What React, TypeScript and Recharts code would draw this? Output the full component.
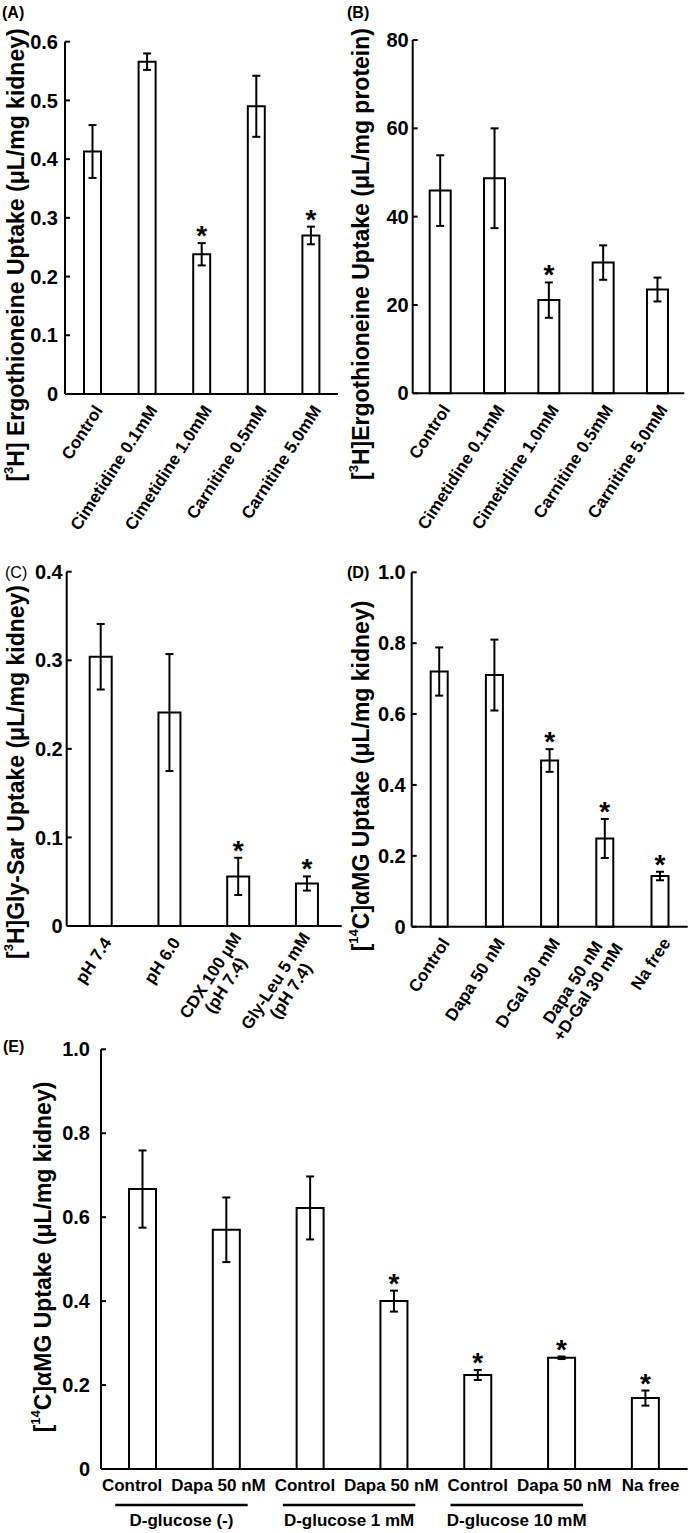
import React from "react";
import { BarChart, Bar, XAxis, YAxis, ErrorBar, LabelList, Label } from "recharts";

const FONT = "'Liberation Sans', Arial, Helvetica, sans-serif";
const ANGLE = -57;

// (A) ergothioneine uptake, kidney slices
const aNames = ["Control", "Cimetidine 0.1mM", "Cimetidine 1.0mM", "Carnitine 0.5mM", "Carnitine 5.0mM"];
const aMean = [0.413, 0.566, 0.238, 0.49, 0.27];
const aSem = [0.045, 0.014, 0.019, 0.052, 0.015];
const aSig = [false, false, true, false, true];
const aTicks = [0, 0.1, 0.2, 0.3, 0.4, 0.5, 0.6];

// (B) ergothioneine uptake per protein
const bNames = ["Control", "Cimetidine 0.1mM", "Cimetidine 1.0mM", "Carnitine 0.5mM", "Carnitine 5.0mM"];
const bMean = [45.9, 48.7, 21.1, 29.6, 23.5];
const bSem = [8.0, 11.3, 4.0, 3.9, 2.7];
const bSig = [false, false, true, false, false];
const bTicks = [0, 20, 40, 60, 80];

// (C) Gly-Sar uptake
const cNames = ["pH 7.4", "pH 6.0", "CDX 100 μM\n(pH 7.4)", "Gly-Leu 5 mM\n(pH 7.4)"];
const cMean = [0.304, 0.241, 0.056, 0.048];
const cSem = [0.037, 0.066, 0.021, 0.008];
const cSig = [false, false, true, true];
const cTicks = [0, 0.1, 0.2, 0.3, 0.4];

// (D) aMG uptake
const dNames = ["Control", "Dapa 50 nM", "D-Gal 30 mM", "Dapa 50 nM\n+D-Gal 30 mM", "Na free"];
const dMean = [0.72, 0.71, 0.469, 0.249, 0.143];
const dSem = [0.068, 0.1, 0.032, 0.055, 0.012];
const dSig = [false, false, true, true, true];
const dTicks = [0, 0.2, 0.4, 0.6, 0.8, 1.0];

// (E) aMG uptake with D-glucose
const eNames = ["Control", "Dapa 50 nM", "Control", "Dapa 50 nM", "Control", "Dapa 50 nM", "Na free"];
const eMean = [0.667, 0.57, 0.622, 0.4, 0.224, 0.265, 0.169];
const eSem = [0.092, 0.077, 0.075, 0.025, 0.012, 0.003, 0.018];
const eSig = [false, false, false, true, true, true, true];
const eTicks = [0, 0.2, 0.4, 0.6, 0.8, 1.0];
const eGroups = [
  { label: "D-glucose (-)", first: 0, last: 1 },
  { label: "D-glucose 1 mM", first: 2, last: 3 },
  { label: "D-glucose 10 mM", first: 4, last: 5 },
];

type Row = { id: string; mean: number; sem: number; sig: boolean };

const buildRows = (means: number[], sems: number[], sigs: boolean[]): Row[] =>
  means.map((m, i) => ({ id: String(i), mean: m, sem: sems[i], sig: sigs[i] }));

const dec = (v: number) => (v === 0 ? "0" : v.toFixed(1));

let ctx: CanvasRenderingContext2D | null = null;
function textWidth(s: string, size: number) {
  if (!ctx) ctx = document.createElement("canvas").getContext("2d");
  if (!ctx) return s.length * size * 0.55;
  ctx.font = `bold ${size}px ${FONT}`;
  return ctx.measureText(s).width;
}

function RotatedTick(props: any) {
  const { x, y, payload, names } = props;
  const lines: string[] = names[Number(payload.value)].split("\n");
  const size = 17;
  const lh = 18;
  const w = Math.max(...lines.map((l) => textWidth(l, size)));
  return (
    <g transform={`translate(${x + 6},${y + 13}) rotate(${ANGLE})`}>
      <text textAnchor="middle" fontFamily={FONT} fontWeight="bold" fontSize={size} fill="#000">
        {lines.map((l, i) => (
          <tspan key={i} x={-w / 2} y={(i - (lines.length - 1) / 2) * lh} dy="0.35em">
            {l}
          </tspan>
        ))}
      </text>
    </g>
  );
}

function FlatTick(props: any) {
  const { x, y, payload } = props;
  const i = Number(payload.value);
  // labels in the source sit a little wider apart than the bars
  const shift = (i - 3) * 2.6 - 3;
  return (
    <text x={x + shift} y={y + 16} dy="0.35em" textAnchor="middle" fontFamily={FONT} fontWeight="bold" fontSize={17} fill="#000">
      {eNames[i]}
    </text>
  );
}

function GroupMarks(props: any) {
  const vb = props.viewBox;
  if (!vb) return null;
  const band = vb.width / eNames.length;
  return (
    <g>
      {eGroups.map((g) => {
        const x1 = vb.x + band * (g.first + 0.5) - 0.33 * band;
        const x2 = vb.x + band * (g.last + 0.5) + 0.25 * band;
        return (
          <g key={g.label}>
            <line x1={x1} x2={x2} y1={vb.y + 36} y2={vb.y + 36} stroke="#000" strokeWidth={2.5} />
            <text x={(x1 + x2) / 2} y={vb.y + 51} dy="0.35em" textAnchor="middle" fontFamily={FONT} fontWeight="bold" fontSize={17} fill="#000">
              {g.label}
            </text>
          </g>
        );
      })}
    </g>
  );
}

const starContent = (rows: Row[]) => (props: any) => {
  const row = rows[props.index];
  if (!row || !row.sig) return null;
  const vb = props.viewBox ?? props;
  const top = vb.y - (row.sem * vb.height) / row.mean;
  return (
    <text x={vb.x + vb.width / 2} y={top + 2} textAnchor="middle" fontFamily={FONT} fontWeight="bold" fontSize={28} fill="#000">
      *
    </text>
  );
};

type Box = { left: number; top: number; w: number; h: number };
type Plot = { l: number; t: number; r: number; b: number };

function Panel(props: {
  box: Box;
  plot: Plot;
  rows: Row[];
  yMax: number;
  yTicks: number[];
  fmt: (v: number) => string;
  barSize: number;
  tick: any;
  tickMargin: number;
  title: { x: number; y: number; pre: string; sup: string; post: string };
  tag: { x: number; y: number; text: string; bold?: boolean };
  groups?: boolean;
}) {
  const { box, plot, rows, title, tag } = props;
  const axis = { stroke: "#000", strokeWidth: 2 };
  const tx = title.x - box.left;
  const ty = title.y - box.top;
  return (
    <div style={{ position: "absolute", left: box.left, top: box.top }}>
      <BarChart
        width={box.w}
        height={box.h}
        data={rows}
        margin={{ top: plot.t - box.top, right: box.left + box.w - plot.r, bottom: 0, left: 0 }}
      >
        <XAxis
          dataKey="id"
          type="category"
          interval={0}
          height={box.top + box.h - plot.b}
          tickLine={false}
          tickSize={0}
          tickMargin={0}
          axisLine={axis}
          tick={props.tick}
        >
          {props.groups ? <Label content={GroupMarks} /> : null}
        </XAxis>
        <YAxis
          type="number"
          domain={[0, props.yMax]}
          ticks={props.yTicks}
          interval={0}
          width={plot.l - box.left}
          tickFormatter={props.fmt}
          tickSize={-5}
          tickMargin={props.tickMargin}
          axisLine={axis}
          tickLine={axis}
          tick={{ fill: "#000", fontSize: 20, fontWeight: "bold", fontFamily: FONT }}
        >
          <Label
            content={() => (
              <g>
                <text
                  x={tx}
                  y={ty}
                  transform={`rotate(-90,${tx},${ty})`}
                  textAnchor="middle"
                  dominantBaseline="central"
                  fontFamily={FONT}
                  fontWeight="bold"
                  fontSize={23}
                  fill="#000"
                >
                  {title.pre}
                  <tspan dy={-8} fontSize={13}>
                    {title.sup}
                  </tspan>
                  <tspan dy={8}>{title.post}</tspan>
                </text>
                <text
                  x={tag.x - box.left}
                  y={tag.y - box.top}
                  dy="0.35em"
                  fontFamily={FONT}
                  fontWeight={tag.bold === false ? "normal" : "bold"}
                  fontSize={16}
                  fill="#000"
                >
                  {tag.text}
                </text>
              </g>
            )}
          />
        </YAxis>
        <Bar dataKey="mean" barSize={props.barSize} fill="#fff" stroke="#000" strokeWidth={2} isAnimationActive={false}>
          <ErrorBar dataKey="sem" width={4} stroke="#000" strokeWidth={2} direction="y" isAnimationActive={false} />
          <LabelList dataKey="mean" content={starContent(rows)} />
        </Bar>
      </BarChart>
    </div>
  );
}

export default function App() {
  return (
    <div style={{ position: "relative", width: 692, height: 1533, background: "#fff", overflow: "hidden" }}>
      <style>{"body{margin:0}"}</style>
      <Panel
        box={{ left: 0, top: 0, w: 346, h: 545 }}
        plot={{ l: 65, t: 41.7, r: 338, b: 394 }}
        rows={buildRows(aMean, aSem, aSig)}
        yMax={0.6}
        yTicks={aTicks}
        fmt={dec}
        barSize={17}
        tick={(p: any) => <RotatedTick {...p} names={aNames} />}
        tickMargin={12}
        title={{ x: 16, y: 255, pre: "[", sup: "3", post: "H] Ergothioneine Uptake (μL/mg kidney)" }}
        tag={{ x: 2, y: 12.5, text: "(A)" }}
      />
      <Panel
        box={{ left: 346, top: 0, w: 346, h: 545 }}
        plot={{ l: 412.7, t: 40, r: 684.3, b: 393.3 }}
        rows={buildRows(bMean, bSem, bSig)}
        yMax={80}
        yTicks={bTicks}
        fmt={(v: number) => String(v)}
        barSize={21}
        tick={(p: any) => <RotatedTick {...p} names={bNames} />}
        tickMargin={9}
        title={{ x: 361, y: 254, pre: "[", sup: "3", post: "H]Ergothioneine Uptake (μL/mg protein)" }}
        tag={{ x: 347, y: 12, text: "(B)" }}
      />
      <Panel
        box={{ left: 0, top: 545, w: 346, h: 515 }}
        plot={{ l: 66.7, t: 571.7, r: 341.7, b: 926 }}
        rows={buildRows(cMean, cSem, cSig)}
        yMax={0.4}
        yTicks={cTicks}
        fmt={dec}
        barSize={22}
        tick={(p: any) => <RotatedTick {...p} names={cNames} />}
        tickMargin={9}
        title={{ x: 16, y: 772, pre: "[", sup: "3", post: "H]Gly-Sar Uptake (μL/mg kidney)" }}
        tag={{ x: 5, y: 572, text: "(C)", bold: false }}
      />
      <Panel
        box={{ left: 346, top: 545, w: 346, h: 515 }}
        plot={{ l: 411.7, t: 572.3, r: 687.7, b: 926.7 }}
        rows={buildRows(dMean, dSem, dSig)}
        yMax={1.0}
        yTicks={dTicks}
        fmt={dec}
        barSize={17}
        tick={(p: any) => <RotatedTick {...p} names={dNames} />}
        tickMargin={11}
        title={{ x: 361, y: 776, pre: "[", sup: "14", post: "C]αMG Uptake (μL/mg kidney)" }}
        tag={{ x: 347, y: 572, text: "(D)" }}
      />
      <Panel
        box={{ left: 0, top: 1030, w: 692, h: 503 }}
        plot={{ l: 101, t: 1049.3, r: 687.7, b: 1469 }}
        rows={buildRows(eMean, eSem, eSig)}
        yMax={1.0}
        yTicks={eTicks}
        fmt={dec}
        barSize={27}
        tick={(p: any) => <FlatTick {...p} />}
        tickMargin={16}
        title={{ x: 43, y: 1257, pre: "[", sup: "14", post: "C]αMG Uptake (μL/mg kidney)" }}
        tag={{ x: 3, y: 1046, text: "(E)" }}
        groups
      />
    </div>
  );
}
